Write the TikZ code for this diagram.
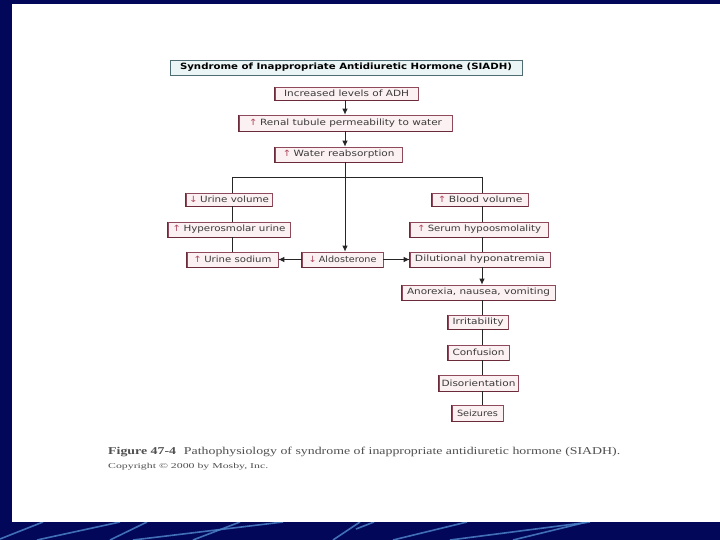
\documentclass[tikz,border=0pt]{standalone}
\usepackage{fontspec}
\usepackage{graphicx}
\usetikzlibrary{arrows.meta}
\newfontfamily\boxfont{DejaVu Sans}
\newfontfamily\capfont{Liberation Serif}
\definecolor{navy}{HTML}{03075A}
\definecolor{streak}{HTML}{4C82C8}
\definecolor{boxfill}{HTML}{FCF1F2}
\definecolor{boxedge}{HTML}{8E4A5A}
\definecolor{boxdark}{HTML}{6A2A3A}
\definecolor{boxtext}{HTML}{3A3A3A}
\definecolor{titlefill}{HTML}{ECF5F5}
\definecolor{titleedge}{HTML}{4E6C72}
\definecolor{arrowc}{HTML}{B04A62}
\definecolor{capgray}{HTML}{505050}
\newcommand\bt[2]{\resizebox{#1pt}{\height}{\boxfont\fontsize{8.6}{9}\selectfont #2}}
\newcommand\upa{\textcolor{arrowc}{↑}\hspace{2pt}}
\newcommand\dna{\textcolor{arrowc}{↓}\hspace{2pt}}
\begin{document}
\begin{tikzpicture}[x=1pt,y=-1pt,
  box/.style={draw=boxedge, line width=0.6pt, fill=boxfill, inner sep=0pt, text=boxtext},
  titlebox/.style={draw=titleedge, line width=0.6pt, fill=titlefill, inner sep=0pt, text=black},
  conn/.style={draw=black!85, line width=0.9pt},
  arr/.style={conn, -{Latex[length=6pt,width=5.5pt]}},
  streakline/.style={draw=streak, line width=1.6pt, opacity=0.85}]
\useasboundingbox (0,0) rectangle (720,540);
% slide background
\fill[navy] (0,0) rectangle (720,540);
\begin{scope}
\clip (0,522) rectangle (720,540);
\foreach \a/\b/\c/\d in {0/539/43/522, 37/540/120/522, 110/540/147/522, 133/540/283/522,
  193/540/240/522, 333/540/360/522, 393/540/467/522, 450/540/590/522, 513/540/587/522, 356/529/374/522}
  \draw[streakline] (\a,\b) -- (\c,\d);
\end{scope}
\fill[white] (12,4) rectangle (720,522);
% title
\node[titlebox, minimum width=352pt, minimum height=15pt] (title) at (346,67.5)
  {\resizebox{332pt}{\height}{\boxfont\bfseries\fontsize{8.6}{9}\selectfont Syndrome of Inappropriate Antidiuretic Hormone (SIADH)}};
\draw[titleedge, line width=1.3pt] (title.north east) -- (title.south east) -- (title.south west);
% boxes
\node[box, minimum width=143pt, minimum height=13pt] (adh) at (346.5,93.5) {\bt{125}{Increased levels of ADH}};
\node[box, minimum width=213pt, minimum height=16pt] (renal) at (345.5,123) {\bt{193}{\upa Renal tubule permeability to water}};
\node[box, minimum width=127pt, minimum height=15pt] (water) at (338.5,154.5) {\bt{112}{\upa Water reabsorption}};
\node[box, minimum width=86pt, minimum height=13pt] (uvol) at (229,199.5) {\bt{80}{\dna Urine volume}};
\node[box, minimum width=122pt, minimum height=15pt] (hyper) at (229,229.5) {\bt{113}{\upa Hyperosmolar urine}};
\node[box, minimum width=91pt, minimum height=15pt] (usod) at (232.5,259.5) {\bt{78}{\upa Urine sodium}};
\node[box, minimum width=81pt, minimum height=15pt] (aldo) at (342.5,259.5) {\bt{68}{\dna Aldosterone}};
\node[box, minimum width=140pt, minimum height=15pt] (dil) at (480,259.5) {\bt{130}{Dilutional hyponatremia}};
\node[box, minimum width=96pt, minimum height=13pt] (blood) at (480,199.5) {\bt{85}{\upa Blood volume}};
\node[box, minimum width=138pt, minimum height=15pt] (serum) at (479,229.5) {\bt{124}{\upa Serum hypoosmolality}};
\node[box, minimum width=153pt, minimum height=15pt] (anor) at (478.5,292.5) {\bt{143}{Anorexia, nausea, vomiting}};
\node[box, minimum width=60pt, minimum height=14pt] (irr) at (478,322) {\bt{51}{Irritability}};
\node[box, minimum width=61pt, minimum height=15pt] (conf) at (478.5,352.5) {\bt{52}{Confusion}};
\node[box, minimum width=79pt, minimum height=16pt] (dis) at (478.5,383) {\bt{74}{Disorientation}};
\node[box, minimum width=51pt, minimum height=16pt] (seiz) at (477.5,413) {\bt{41}{Seizures}};
\foreach \n in {adh,renal,water,uvol,hyper,usod,aldo,dil,blood,serum,anor,irr,conf,dis,seiz}
  \draw[boxdark, line width=1.3pt] (\n.north west) -- (\n.south west) -- (\n.south east);
% connectors
\coordinate (mx) at (345,177);
\coordinate (lx) at (232,177);
\coordinate (rx) at (482,177);
\draw[arr] (adh.south -| mx) -- (renal.north -| mx);
\draw[arr] (renal.south -| mx) -- (water.north -| mx);
\draw[conn] (water.south -| mx) -- (mx);
\draw[arr] (mx) -- (aldo.north -| mx);
\draw[conn] (lx) -- (rx);
\draw[conn] (lx) -- (uvol.north -| lx);
\draw[conn] (uvol.south -| lx) -- (hyper.north -| lx);
\draw[conn] (hyper.south -| lx) -- (usod.north -| lx);
\draw[conn] (rx) -- (blood.north -| rx);
\draw[conn] (blood.south -| rx) -- (serum.north -| rx);
\draw[conn] (serum.south -| rx) -- (dil.north -| rx);
\draw[arr] (aldo.west) -- (usod.east);
\draw[arr] (aldo.east) -- (dil.west);
\draw[arr] (dil.south -| rx) -- (anor.north -| rx);
\draw[conn] (anor.south -| rx) -- (irr.north -| rx);
\draw[conn] (irr.south -| rx) -- (conf.north -| rx);
\draw[conn] (conf.south -| rx) -- (dis.north -| rx);
\draw[conn] (dis.south -| rx) -- (seiz.north -| rx);
% caption
\node[anchor=west, inner sep=0pt, text=capgray] (cap) at (108,452)
  {\resizebox{512pt}{\height}{\capfont\fontsize{10.5}{12}\selectfont\textbf{Figure 47-4}\hspace{6pt}Pathophysiology of syndrome of inappropriate antidiuretic hormone (SIADH).}};
\node[anchor=west, inner sep=0pt, text=capgray] (copy) at (108,466.5)
  {\resizebox{160pt}{\height}{\capfont\fontsize{7.5}{9}\selectfont Copyright © 2000 by Mosby, Inc.}};
\end{tikzpicture}
\end{document}
